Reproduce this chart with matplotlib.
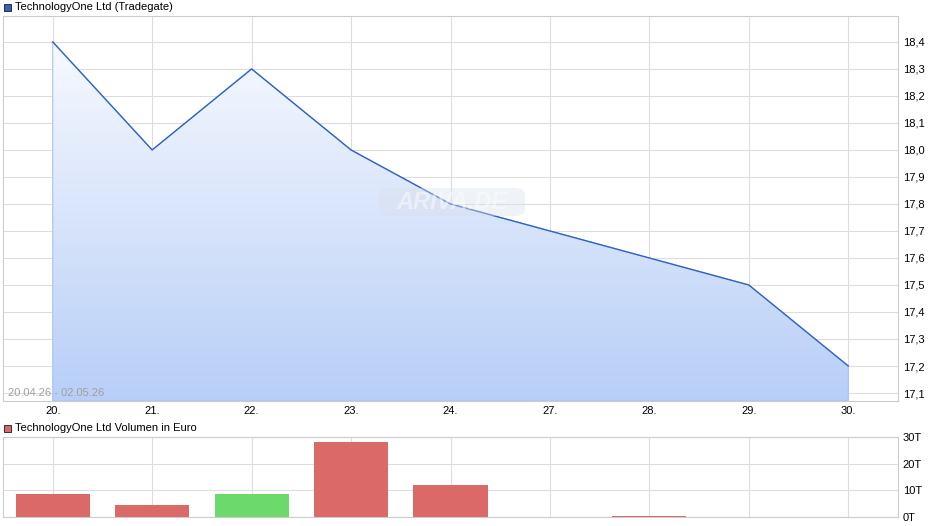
import numpy as np
import matplotlib
matplotlib.use("Agg")
import matplotlib.pyplot as plt
from matplotlib.patches import Rectangle, FancyBboxPatch
from matplotlib.ticker import FixedLocator, FuncFormatter

plt.rcParams['font.family'] = ['Liberation Sans', 'DejaVu Sans']

# ---- data ----
dates = ["20.", "21.", "22.", "23.", "24.", "27.", "28.", "29.", "30."]
prices = [18.4, 18.0, 18.3, 18.0, 17.8, 17.7, 17.6, 17.5, 17.2]
volumes = [8600, 4500, 8600, 28200, 12000, 0, 400, 0, 0]
vol_up = [False, False, True, False, False, False, False, False, False]
price_ticks = [17.1, 17.2, 17.3, 17.4, 17.5, 17.6, 17.7, 17.8, 17.9, 18.0, 18.1, 18.2, 18.3, 18.4]
vol_ticks = [0, 10000, 20000, 30000]
vol_tick_labels = ["0T", "10T", "20T", "30T"]
title_main = "TechnologyOne Ltd (Tradegate)"
title_vol = "TechnologyOne Ltd Volumen in Euro"
range_label = "20.04.26 - 02.05.26"

W, H = 940, 526
fig = plt.figure(figsize=(W / 100, H / 100), dpi=100)

def fx(px):
    return px / W

def fy(py):
    return 1 - py / H

grid_c = "#dddddd"
border_c = "#cccccc"
line_c = "#2f62c6"
fs = 8

x = np.arange(len(dates))

# ---- main axes ----
axL, axR = 3, 898
ax = fig.add_axes([fx(axL), fy(401), fx(axR) - fx(axL), fy(16) - fy(401)])
ax.set_xlim(-0.5, 8.5)
ax.set_ylim(17.0704, 18.496)

poly = ax.fill_between(x, prices, 17.0704, facecolor="none", edgecolor="#a9c4f0", linewidth=0.8, zorder=2)
grad = np.linspace(0, 1, 256).reshape(-1, 1)
top_c = np.array([0.985, 0.99, 1.0])
bot_c = np.array([0.72, 0.81, 0.97])
img = top_c[None, None, :] * (1 - grad[:, :, None]) + bot_c[None, None, :] * grad[:, :, None]
im = ax.imshow(img, extent=[-0.5, 8.5, 17.0704, 18.496], aspect="auto", origin="upper", zorder=1)
path = poly.get_paths()[0]
im.set_clip_path(path, transform=ax.transData)
ax.plot(x, prices, color=line_c, linewidth=1.0, zorder=3)

ax.xaxis.set_major_locator(FixedLocator(x))
ax.set_xticklabels(dates)
ax.yaxis.set_major_locator(FixedLocator(price_ticks))
ax.yaxis.set_major_formatter(FuncFormatter(lambda v, p: f"{v:.1f}".replace(".", ",")))
ax.yaxis.tick_right()
ax.tick_params(axis="both", length=0, labelsize=fs, colors="#000000")
ax.tick_params(axis="y", pad=3.5)
ax.tick_params(axis="x", pad=3.5)
ax.grid(True, color=grid_c, linewidth=0.8, zorder=0)
ax.set_axisbelow(True)
for s in ax.spines.values():
    s.set_color(border_c)
    s.set_linewidth(0.8)

ax.text(0.006, 0.022, range_label, transform=ax.transAxes, fontsize=fs, color="#a0a0a0",
        ha="left", va="center", zorder=5)

# watermark
wm = FancyBboxPatch((fx(379), fy(216)), fx(525) - fx(379), fy(188) - fy(216),
                    boxstyle="round,pad=0.0,rounding_size=0.012", transform=fig.transFigure,
                    facecolor="#d9e0ea", edgecolor="none", alpha=0.4, zorder=4)
fig.add_artist(wm)
fig.text(fx(452), fy(202), "ARIVA.DE", fontsize=17, fontweight="bold", style="italic",
         color="white", alpha=0.45, ha="center", va="center", zorder=5)

# ---- volume axes ----
av = fig.add_axes([fx(axL), fy(517), fx(axR) - fx(axL), fy(437) - fy(517)])
av.set_xlim(-0.5, 8.5)
av.set_ylim(0, 30000)
colors = ["#6bd96b" if u else "#db6968" for u in vol_up]
av.bar(x, volumes, width=0.745, color=colors, zorder=2)
av.xaxis.set_major_locator(FixedLocator(x))
av.set_xticklabels([])
av.yaxis.set_major_locator(FixedLocator(vol_ticks))
av.set_yticklabels(vol_tick_labels)
av.yaxis.tick_right()
av.tick_params(axis="both", length=0, labelsize=fs, colors="#000000")
av.tick_params(axis="y", pad=3.5)
av.grid(True, color=grid_c, linewidth=0.8, zorder=0)
av.set_axisbelow(True)
for s in av.spines.values():
    s.set_color(border_c)
    s.set_linewidth(0.8)

# ---- legend headers ----
def header(py, color, text):
    fig.add_artist(Rectangle((fx(4), fy(py + 3.5)), fx(7), 7 / H, transform=fig.transFigure,
                             facecolor=color, edgecolor="#333333", linewidth=0.7))
    fig.text(fx(15), fy(py), text, fontsize=fs, ha="left", va="center", color="#000000")

header(7, "#2f62c6", title_main)
header(428, "#db6968", title_vol)

fig.savefig("out.png", dpi=100)
